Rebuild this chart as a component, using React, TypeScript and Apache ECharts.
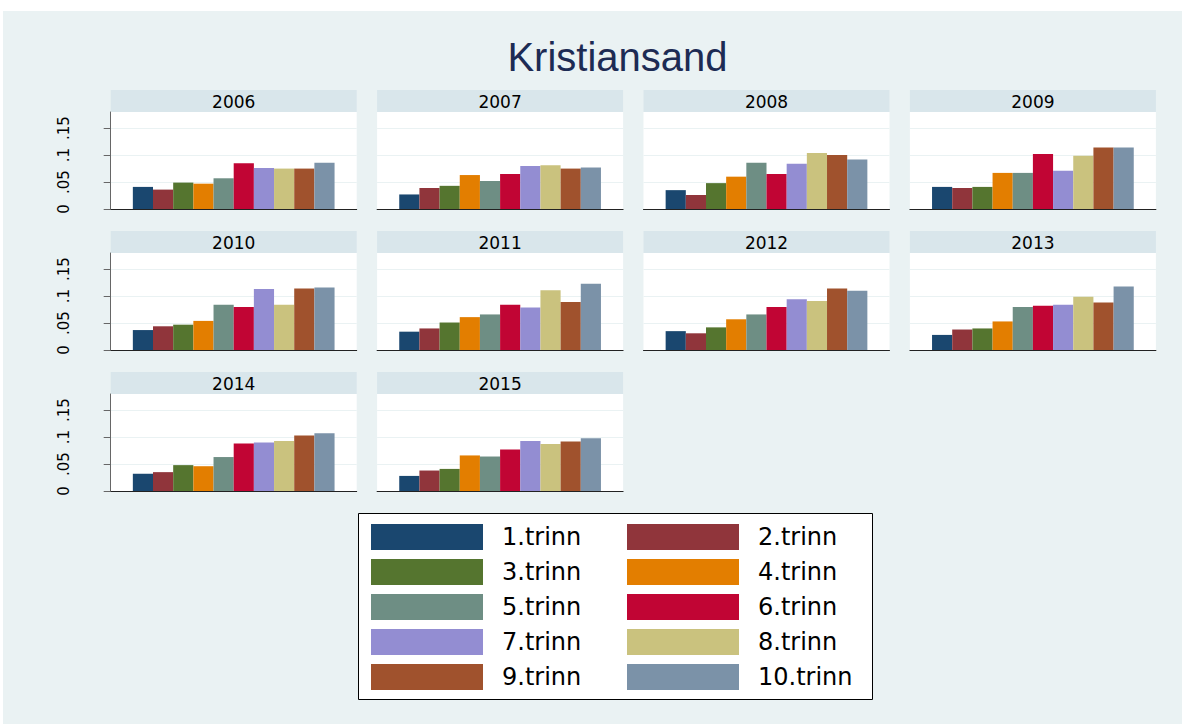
import React, { useEffect, useRef } from 'react';
import * as echarts from 'echarts';

const chartTitle = 'Kristiansand';
const years = ['2006', '2007', '2008', '2009', '2010', '2011', '2012', '2013', '2014', '2015'];
const grades = ['1.trinn', '2.trinn', '3.trinn', '4.trinn', '5.trinn', '6.trinn', '7.trinn', '8.trinn', '9.trinn', '10.trinn'];

const v2006 = [0.041, 0.036, 0.049, 0.047, 0.057, 0.085, 0.076, 0.075, 0.075, 0.086];
const v2007 = [0.027, 0.039, 0.043, 0.063, 0.052, 0.065, 0.080, 0.081, 0.075, 0.077];
const v2008 = [0.035, 0.026, 0.048, 0.060, 0.086, 0.065, 0.084, 0.104, 0.100, 0.092];
const v2009 = [0.041, 0.039, 0.041, 0.067, 0.067, 0.102, 0.071, 0.099, 0.114, 0.114];
const v2010 = [0.037, 0.044, 0.047, 0.054, 0.084, 0.080, 0.113, 0.084, 0.114, 0.116];
const v2011 = [0.034, 0.040, 0.051, 0.061, 0.066, 0.084, 0.079, 0.111, 0.089, 0.123];
const v2012 = [0.035, 0.031, 0.042, 0.057, 0.066, 0.080, 0.094, 0.091, 0.114, 0.110];
const v2013 = [0.028, 0.038, 0.040, 0.053, 0.080, 0.082, 0.084, 0.099, 0.088, 0.118];
const v2014 = [0.032, 0.035, 0.048, 0.046, 0.063, 0.088, 0.090, 0.093, 0.103, 0.107];
const v2015 = [0.028, 0.038, 0.041, 0.066, 0.064, 0.077, 0.093, 0.087, 0.092, 0.098];
const valuesByYear = [v2006, v2007, v2008, v2009, v2010, v2011, v2012, v2013, v2014, v2015];

const yTickValues = [0, 0.05, 0.1, 0.15];
const yTickLabels = ['0', '.05', '.1', '.15'];
const yMax = 0.18;

const palette = ['#1a476f', '#90353b', '#55752f', '#e37e00', '#6e8e84', '#c10534', '#938dd2', '#cac27e', '#a0522d', '#7b92a8'];

export default function App() {
  const ref = useRef<HTMLDivElement>(null);
  useEffect(() => {
    const chart = echarts.init(ref.current!, null, { renderer: 'svg' });
    const W = 246, H = 97, X0 = 110.7, DX = 266.4, Y0 = 112, DY = 141, HEAD = 22;
    const grids: any[] = [], xAxes: any[] = [], yAxes: any[] = [], series: any[] = [];
    const graphics: any[] = [
      { type: 'rect', z: -100, silent: true, shape: { x: 3, y: 11, width: 1179, height: 713 }, style: { fill: '#eaf2f3' } },
      { type: 'text', z: 5, x: 617.5, y: 57, style: { text: chartTitle, align: 'center', verticalAlign: 'middle', fontSize: 40, fontFamily: 'Liberation Sans', fill: '#1d2b54' } },
      { type: 'rect', z: -50, shape: { x: 358.5, y: 513.5, width: 514, height: 186 }, style: { fill: '#ffffff', stroke: '#000000', lineWidth: 1 } },
    ];
    const fmt = (v: number) => {
      const idx = yTickValues.findIndex((t) => Math.abs(t - v) < 1e-9);
      return idx >= 0 ? yTickLabels[idx] : '';
    };
    years.forEach((yr, i) => {
      const col = i % 4, row = Math.floor(i / 4);
      const left = X0 + col * DX, top = Y0 + row * DY;
      grids.push({ left, top, width: W, height: H, show: true, backgroundColor: '#ffffff', borderWidth: 0 });
      graphics.push({ type: 'rect', z: -50, shape: { x: left, y: top - HEAD, width: W, height: HEAD }, style: { fill: '#d9e6eb' } });
      graphics.push({ type: 'text', z: 5, x: left + W / 2, y: top - HEAD / 2 + 1, style: { text: yr, align: 'center', verticalAlign: 'middle', fontSize: 17, fontFamily: 'DejaVu Sans', fill: '#000' } });
      xAxes.push({
        type: 'category', gridIndex: i, data: [yr],
        axisLine: { show: true, lineStyle: { color: '#222', width: 1 } },
        axisTick: { show: false }, axisLabel: { show: false }, splitLine: { show: false },
      });
      const first = col === 0;
      yAxes.push({
        type: 'value', gridIndex: i, min: 0, max: yMax, interval: 0.05,
        axisLine: { show: first, lineStyle: { color: '#666', width: 1 } },
        axisTick: { show: first, length: 7, lineStyle: { color: '#666' }, customValues: yTickValues },
        axisLabel: { show: first, rotate: 90, margin: 39, fontSize: 15, fontFamily: 'DejaVu Sans', color: '#000', formatter: fmt, customValues: yTickValues },
        splitLine: { show: true, lineStyle: { color: '#eaf2f3', width: 1 } },
      });
      grades.forEach((g, k) => {
        series.push({
          type: 'bar', name: g, xAxisIndex: i, yAxisIndex: i, data: [valuesByYear[i][k]],
          barGap: '0%', barCategoryGap: '18%', silent: true,
          itemStyle: { color: palette[k] },
        });
      });
    });
    const legendCommon = {
      orient: 'vertical', top: 524, itemWidth: 112, itemHeight: 26, itemGap: 9, icon: 'rect',
      selectedMode: false, padding: 0,
      textStyle: { fontSize: 24, fontFamily: 'DejaVu Sans', color: '#000', padding: [0, 0, 0, 14], lineHeight: 26 },
    };
    chart.setOption({
      animation: false,
      backgroundColor: '#ffffff',
      grid: grids, xAxis: xAxes, yAxis: yAxes, series,
      legend: [
        { ...legendCommon, left: 371, data: grades.filter((_, k) => k % 2 === 0) },
        { ...legendCommon, left: 627, data: grades.filter((_, k) => k % 2 === 1) },
      ],
      graphic: graphics,
    });
    return () => chart.dispose();
  }, []);
  return <div ref={ref} style={{ position: 'fixed', left: 0, top: 0, width: 1185, height: 727 }} />;
}
